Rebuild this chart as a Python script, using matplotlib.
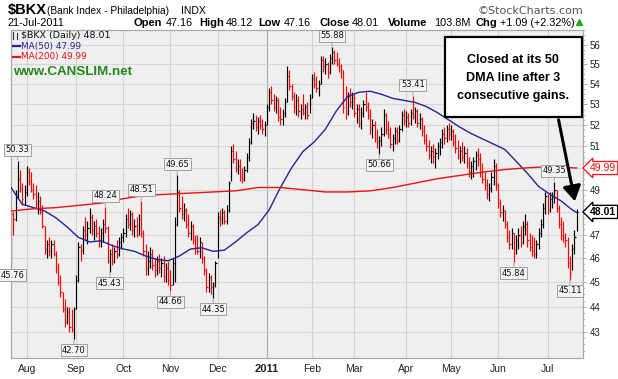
import numpy as np
import pandas as pd
import matplotlib
matplotlib.use('Agg')
import matplotlib.pyplot as plt
from matplotlib.lines import Line2D
from matplotlib.patches import Rectangle, FancyArrowPatch
from matplotlib.ticker import FixedLocator, NullFormatter, FuncFormatter

# trading days shown (22-Jul-2010 .. 21-Jul-2011)
holidays = ['2010-09-06', '2010-11-25', '2010-12-24', '2011-01-17',
            '2011-02-21', '2011-04-22', '2011-05-30', '2011-07-04']
dates = pd.bdate_range('2010-07-22', '2011-07-21')
dates = dates[~dates.isin(pd.to_datetime(holidays))]

# daily bars
highs = [48.1, 48.0, 49.0, 50.33, 49.9, 49.3, 49.2, 50.1, 50.0, 49.8,
         49.3, 49.2, 48.9, 48.7, 48.3, 47.4, 46.8, 46.9, 46.8, 46.8,
         46.3, 45.8, 45.3, 44.6, 44.3, 44.0, 44.0, 43.9, 44.0, 45.3,
         46.7, 46.6, 47.4, 47.8, 47.6, 48.2, 47.9, 47.6, 47.7, 47.4,
         47.3, 47.7, 48.24, 47.4, 46.4, 46.6, 46.5, 46.8, 46.9, 47.1,
         47.3, 47.9, 48.2, 48.1, 48.0, 47.7, 47.8, 47.9, 48.51, 47.2,
         46.6, 46.3, 46.5, 46.4, 46.0, 46.1, 46.2, 46.0, 46.1, 45.8,
         45.9, 45.5, 46.0, 47.8, 49.65, 49.0, 48.7, 48.4, 48.2, 47.9,
         47.6, 47.5, 47.0, 47.0, 46.9, 46.7, 46.1, 45.6, 45.4, 45.3,
         45.0, 45.9, 48.0, 48.1, 48.2, 48.1, 48.3, 49.4, 51.0, 51.1,
         50.8, 50.4, 50.4, 50.0, 50.1, 50.7, 51.4, 52.3, 52.6, 52.5,
         52.4, 52.5, 52.3, 52.2, 53.0, 53.8, 53.9, 53.5, 53.4, 53.3,
         52.9, 52.8, 53.3, 54.9, 54.7, 54.0, 53.6, 53.5, 53.4, 53.0,
         53.5, 53.0, 53.1, 53.5, 54.5, 54.6, 54.4, 54.2, 55.4, 55.4,
         55.3, 55.1, 55.5, 55.88, 55.7, 55.6, 55.3, 55.0, 54.7, 53.9,
         53.6, 53.8, 53.6, 53.5, 53.0, 53.0, 52.9, 53.2, 53.6, 53.1,
         52.8, 52.3, 52.2, 51.8, 51.5, 51.9, 52.8, 52.6, 52.2, 51.9,
         51.6, 51.9, 51.9, 52.0, 52.7, 52.8, 52.7, 52.6, 52.8, 53.41,
         52.9, 52.8, 52.6, 52.4, 52.0, 51.6, 51.3, 51.0, 51.1, 50.9,
         51.2, 51.4, 51.8, 51.9, 52.0, 52.1, 52.0, 51.8, 51.6, 51.3,
         51.0, 51.2, 51.0, 50.9, 50.5, 50.3, 50.5, 50.8, 50.9, 50.7,
         50.2, 49.8, 49.5, 49.3, 49.8, 50.4, 50.2, 49.3, 48.6, 48.3,
         48.1, 47.6, 47.2, 47.3, 47.1, 47.0, 47.3, 47.4, 47.6, 47.9,
         47.6, 47.1, 47.0, 46.9, 46.8, 47.3, 47.7, 48.4, 48.9, 48.8,
         48.9, 48.9, 49.35, 49.0, 48.3, 47.8, 47.6, 47.1, 46.9, 46.1,
         46.6, 47.2, 48.12]
lows = [45.76, 47.0, 47.6, 48.6, 48.9, 48.3, 48.3, 48.7, 49.2, 48.9,
        48.6, 48.2, 47.9, 47.9, 47.3, 46.2, 46.0, 46.1, 46.0, 46.1,
        45.4, 44.9, 44.4, 43.8, 43.2, 43.3, 43.0, 43.0, 42.70, 43.9,
        45.0, 45.9, 46.2, 46.8, 46.6, 47.1, 47.0, 46.8, 46.9, 46.5,
        46.5, 46.7, 47.1, 45.8, 45.43, 45.7, 45.8, 46.0, 46.1, 46.4,
        46.7, 46.9, 47.3, 47.2, 47.0, 46.9, 46.9, 47.0, 46.9, 46.1,
        45.3, 45.3, 45.6, 45.5, 45.2, 45.3, 45.4, 45.2, 45.0, 45.0,
        44.9, 44.66, 44.9, 45.0, 47.4, 48.0, 47.7, 47.6, 47.3, 46.9,
        46.8, 46.6, 46.2, 46.2, 46.0, 45.8, 45.3, 44.6, 44.6, 44.5,
        44.35, 44.8, 46.0, 47.4, 47.5, 47.5, 47.5, 48.0, 49.4, 50.2,
        49.8, 49.7, 49.4, 49.3, 49.4, 49.8, 50.3, 51.1, 51.8, 51.7,
        51.6, 51.8, 51.6, 51.5, 52.0, 52.7, 53.0, 52.7, 52.6, 52.2,
        52.0, 52.0, 52.4, 53.1, 53.7, 53.2, 52.6, 52.5, 52.4, 52.3,
        52.5, 52.3, 52.3, 52.6, 53.3, 53.8, 53.6, 53.4, 54.0, 54.6,
        54.5, 54.3, 54.5, 55.0, 55.0, 54.9, 54.6, 54.3, 52.6, 52.3,
        52.5, 52.9, 52.8, 52.4, 52.1, 51.9, 51.8, 52.4, 52.7, 52.3,
        51.6, 51.4, 51.2, 50.9, 50.66, 51.0, 51.5, 51.6, 51.4, 50.9,
        50.8, 51.1, 51.1, 51.2, 51.7, 52.0, 51.9, 51.9, 52.0, 52.3,
        52.1, 51.9, 51.8, 51.5, 51.1, 50.8, 50.4, 50.2, 50.2, 50.0,
        50.4, 50.6, 50.9, 51.1, 51.2, 51.3, 51.3, 51.0, 50.7, 50.4,
        50.2, 50.3, 50.2, 50.0, 49.6, 49.5, 49.6, 49.9, 50.1, 49.6,
        49.3, 49.0, 48.6, 48.5, 48.9, 49.2, 49.0, 48.2, 47.8, 47.6,
        47.3, 46.7, 46.4, 46.4, 45.84, 46.2, 46.4, 46.5, 46.6, 47.0,
        46.5, 46.3, 46.1, 46.0, 46.0, 46.4, 46.9, 47.3, 47.9, 47.9,
        48.0, 48.2, 48.4, 48.0, 47.3, 46.8, 46.7, 46.5, 45.6, 45.11,
        45.5, 46.2, 47.16]
closes = [47.9, 47.7, 48.8, 49.5, 49.1, 48.6, 48.9, 49.8, 49.4, 49.0,
          48.8, 48.4, 48.5, 48.0, 47.4, 46.4, 46.6, 46.3, 46.6, 46.2,
          45.6, 45.0, 44.6, 43.9, 43.4, 43.8, 43.2, 43.1, 43.9, 45.1,
          46.5, 46.3, 47.2, 47.0, 47.3, 47.8, 47.2, 47.4, 47.1, 46.8,
          47.1, 47.5, 47.3, 45.9, 46.2, 45.9, 46.3, 46.2, 46.7, 46.9,
          47.1, 47.7, 47.5, 47.9, 47.2, 47.4, 47.0, 47.7, 47.1, 46.3,
          45.6, 45.9, 46.2, 45.7, 45.5, 45.9, 45.6, 45.8, 45.2, 45.6,
          45.1, 44.9, 45.8, 47.5, 48.9, 48.2, 47.9, 48.1, 47.5, 47.1,
          47.4, 46.8, 46.5, 46.3, 46.7, 46.0, 45.5, 44.8, 45.2, 44.8,
          44.9, 45.8, 47.8, 47.7, 48.0, 47.6, 48.1, 49.3, 50.8, 50.4,
          50.0, 50.1, 49.6, 49.5, 49.9, 50.5, 51.2, 52.1, 52.2, 51.9,
          52.2, 52.0, 51.8, 52.0, 52.9, 53.6, 53.2, 52.9, 53.2, 52.4,
          52.3, 52.6, 53.1, 54.4, 53.9, 53.4, 52.9, 53.2, 52.7, 52.8,
          52.6, 52.9, 52.5, 53.3, 54.3, 54.0, 53.8, 54.0, 55.2, 54.9,
          55.0, 54.6, 55.3, 55.6, 55.2, 55.0, 54.9, 54.7, 52.9, 52.6,
          53.4, 53.1, 53.3, 52.6, 52.8, 52.1, 52.6, 53.0, 52.9, 52.5,
          51.8, 52.0, 51.4, 51.2, 51.3, 51.6, 52.5, 51.8, 51.6, 51.1,
          51.4, 51.7, 51.3, 51.8, 52.5, 52.2, 52.4, 52.1, 52.6, 52.5,
          52.7, 52.1, 52.3, 51.7, 51.3, 51.0, 50.6, 50.8, 50.5, 50.7,
          51.0, 51.2, 51.6, 51.4, 51.8, 51.6, 51.7, 51.2, 50.9, 50.6,
          50.8, 50.5, 50.7, 50.2, 49.8, 50.1, 50.3, 50.6, 50.4, 49.8,
          49.5, 49.2, 48.8, 49.1, 49.6, 50.1, 49.2, 48.4, 48.0, 48.1,
          47.5, 46.9, 46.6, 47.1, 46.4, 46.8, 47.0, 46.7, 47.4, 47.5,
          46.8, 46.5, 46.3, 46.2, 46.6, 47.1, 47.5, 48.2, 48.7, 48.1,
          48.6, 48.7, 49.0, 48.2, 47.5, 47.0, 46.9, 46.8, 45.8, 45.4,
          46.4, 46.92, 48.01]

# moving averages sampled along the chart
ma50_idx = list(range(0, 251, 5)) + [252]
ma50 = [49.1, 48.35, 48.2, 48.05, 47.75, 47.35, 46.9, 46.7, 46.75, 46.55,
        46.4, 46.3, 46.1, 45.95, 45.9, 46.1, 46.4, 46.45, 46.3, 46.35,
        46.7, 47.1, 47.45, 48.1, 49.1, 50.0, 50.75, 51.2, 51.8, 52.7,
        53.4, 53.6, 53.65, 53.5, 53.3, 53.2, 53.1, 52.9, 52.6, 52.25,
        51.9, 51.6, 51.35, 51.1, 50.85, 50.3, 49.75, 49.15, 48.8, 48.5,
        48.1, 47.99]
ma200_idx = list(range(0, 251, 10)) + [252]
ma200 = [48.05, 48.15, 48.2, 48.3, 48.4, 48.6, 48.75, 48.8, 48.85, 48.9,
         48.95, 49.1, 49.1, 49.0, 48.9, 48.9, 48.95, 49.1, 49.3, 49.5,
         49.65, 49.8, 49.92, 50.0, 50.05, 50.0, 49.99]

hi_labels = [3, 42, 58, 74, 143, 179, 242]
lo_labels = [0, 28, 44, 71, 90, 164, 224, 249]

W, H = 618, 379
def fx(x): return x / W
def fy(y): return 1 - y / H

fig = plt.figure(figsize=(W / 100, H / 100), dpi=100)
ax = fig.add_axes([fx(10.7), fy(358), (583 - 10.7) / W, (358 - 30) / H])
ax.set_facecolor('#efefef')
ax.set_yscale('log')
ax.set_ylim(41.97, 56.76)
ax.set_xlim(-0.15, 254.8)
for s in ax.spines.values():
    s.set_color('#a4aca4')
    s.set_linewidth(0.9)

# y axis on the right; the levels under the value tags stay unlabelled
hidden = {48, 50}
ax.yaxis.tick_right()
ax.yaxis.set_major_locator(FixedLocator(range(43, 57)))
ax.yaxis.set_major_formatter(FuncFormatter(lambda v, p: '' if round(v) in hidden else f'{v:g}'))
ax.yaxis.set_minor_locator(FixedLocator(np.arange(42.25, 56.8, 0.25)))
ax.yaxis.set_minor_formatter(NullFormatter())
ax.tick_params(axis='y', which='major', length=3, width=0.6, color='#a4aca4',
               labelsize=7, pad=2, labelcolor='#222222')
ax.tick_params(axis='y', which='minor', length=1.5, width=0.5, color='#a4aca4')
for t in ax.get_yticklabels():
    t.set_family('Liberation Sans')
ax.grid(axis='y', which='major', color='#d6d6d6', lw=0.8)
ax.set_axisbelow(True)

# month ticks
x = np.arange(len(closes))
month_pos = [i for i in range(1, len(dates)) if dates[i].month != dates[i - 1].month]
month_lab = ['2011' if dates[i].month == 1 else dates[i].strftime('%b') for i in month_pos]
ax.set_xticks(month_pos)
ax.set_xticklabels(month_lab)
ax.tick_params(axis='x', length=0, pad=4, labelsize=7.5, labelcolor='#222222')
for t in ax.get_xticklabels():
    t.set_family('Liberation Sans')
    if t.get_text() == '2011':
        t.set_fontweight('bold')
        t.set_fontsize(8)
for p, lab in zip(month_pos, month_lab):
    ax.axvline(p, color='#a8a8a8' if lab == '2011' else '#d2d2d2', lw=0.8, zorder=0.5)

# OHLC style bars (high-low with close tick)
cols = ['black' if i == 0 or closes[i] >= closes[i - 1] else '#ff0000' for i in x]
ax.vlines(x, lows, highs, colors=cols, lw=0.85, zorder=2)
ax.hlines(closes, x, x + 0.55, colors=cols, lw=0.85, zorder=2)

ax.plot(ma50_idx, ma50, color='#24249a', lw=1.0, zorder=3)
ax.plot(ma200_idx, ma200, color='#ee1111', lw=1.0, zorder=3)

box = dict(boxstyle='square,pad=0.18', fc='#f2f2f2', ec='#a0a0a0', lw=0.7)
for i in hi_labels:
    ax.annotate(f'{highs[i]:.2f}', xy=(i, highs[i]), xytext=(0, 8), textcoords='offset points',
                ha='center', va='center', fontsize=6, color='#111111', bbox=box,
                annotation_clip=False, zorder=5,
                arrowprops=dict(arrowstyle='-', color='#a0a0a0', lw=0.7, shrinkA=0, shrinkB=0.5))
for i in lo_labels:
    dx = 1 if i == 0 else 0
    ax.annotate(f'{lows[i]:.2f}', xy=(i, lows[i]), xytext=(dx, -8), textcoords='offset points',
                ha='center', va='center', fontsize=6, color='#111111', bbox=box,
                annotation_clip=False, zorder=5,
                arrowprops=dict(arrowstyle='-', color='#a0a0a0', lw=0.7, shrinkA=0, shrinkB=0.5))

# last value tags on the right axis
ax.annotate(f'{closes[-1]:.2f}', xy=(1.0, closes[-1]), xycoords=('axes fraction', 'data'),
            xytext=(5, 0), textcoords='offset points', ha='left', va='center',
            fontsize=7.5, fontweight='bold', family='Liberation Sans', annotation_clip=False,
            bbox=dict(boxstyle='larrow,pad=0.15', fc='white', ec='black', lw=1.0))
ax.annotate(f'{ma200[-1]:.2f}', xy=(1.0, ma200[-1]), xycoords=('axes fraction', 'data'),
            xytext=(5, 0), textcoords='offset points', ha='left', va='center', color='#ee1111',
            fontsize=7.5, family='Liberation Sans', annotation_clip=False,
            bbox=dict(boxstyle='larrow,pad=0.15', fc='white', ec='#ee1111', lw=0.9))

# header
fig.text(fx(8), fy(10), '$BKX', fontsize=10.5, fontweight='bold', family='Liberation Sans', va='center')
fig.text(fx(47), fy(10.5), '(Bank Index - Philadelphia)', fontsize=7.3, family='Liberation Sans', va='center')
fig.text(fx(181), fy(10.5), 'INDX', fontsize=7.5, family='Liberation Sans', va='center')
fig.text(fx(583), fy(10.5), '\u00a9StockCharts.com', fontsize=8, family='DejaVu Sans',
         color='#555555', ha='right', va='center')
fig.text(fx(8), fy(22.5), '21-Jul-2011', fontsize=7.8, family='Liberation Sans', va='center')
row = [(134, 'Open', True), (166, '47.16', False), (199, 'High', True), (226, '48.12', False),
       (258, 'Low', True), (284, '47.16', False), (319, 'Close', True), (352, '48.01', False),
       (388, 'Volume', True), (434, '103.8M', False), (475, 'Chg', True), (500, '+1.09 (+2.32%)', False)]
for px_, txt, bold in row:
    fig.text(fx(px_), fy(22.5), txt, fontsize=8 if bold else 7.8, family='Liberation Sans',
             fontweight='bold' if bold else 'normal', va='center')
fig.add_artist(Line2D([fx(579)], [fy(22)], marker='^', color='#22aa22', markersize=5,
                      transform=fig.transFigure))

# legend inside the price panel
fig.add_artist(Line2D([fx(12.5), fx(12.5)], [fy(31.5), fy(38.5)], color='#333333', lw=0.8, transform=fig.transFigure))
fig.add_artist(Line2D([fx(16.5), fx(16.5)], [fy(32.5), fy(39)], color='#333333', lw=0.8, transform=fig.transFigure))
fig.text(fx(21), fy(35.5), '$BKX (Daily) 48.01', fontsize=6.8, va='center', color='#111111')
fig.add_artist(Line2D([fx(13), fx(20)], [fy(46), fy(46)], color='#24249a', lw=1.6, transform=fig.transFigure))
fig.text(fx(21), fy(46.5), 'MA(50) 47.99', fontsize=6.4, va='center', color='#24249a')
fig.add_artist(Line2D([fx(13), fx(20)], [fy(57), fy(57)], color='#ee1111', lw=1.6, transform=fig.transFigure))
fig.text(fx(21), fy(57), 'MA(200) 49.99', fontsize=6.4, va='center', color='#ee1111')
fig.text(fx(13), fy(72), 'www.CANSLIM.net', fontsize=9.6, fontweight='bold',
         family='Liberation Sans', va='center', color='#25881c')

# comment box with arrow
fig.add_artist(Rectangle((fx(445), fy(116.7)), 136.7 / W, 80 / H, transform=fig.transFigure,
                         fc='white', ec='black', lw=1.6, zorder=6))
for yy, line in [(60, 'Closed at its 50'), (78, 'DMA line after 3'), (95.5, 'consecutive gains.')]:
    fig.text(fx(513), fy(yy), line, fontsize=9, fontweight='bold', family='Liberation Sans',
             ha='center', va='center', zorder=7)
fig.add_artist(FancyArrowPatch((fx(558), fy(117)), (fx(575.5), fy(204)), transform=fig.transFigure,
                               arrowstyle='-|>,head_length=0.75,head_width=0.45', mutation_scale=12,
                               lw=2.2, color='black', zorder=6))

fig.savefig('out.png', dpi=100)
